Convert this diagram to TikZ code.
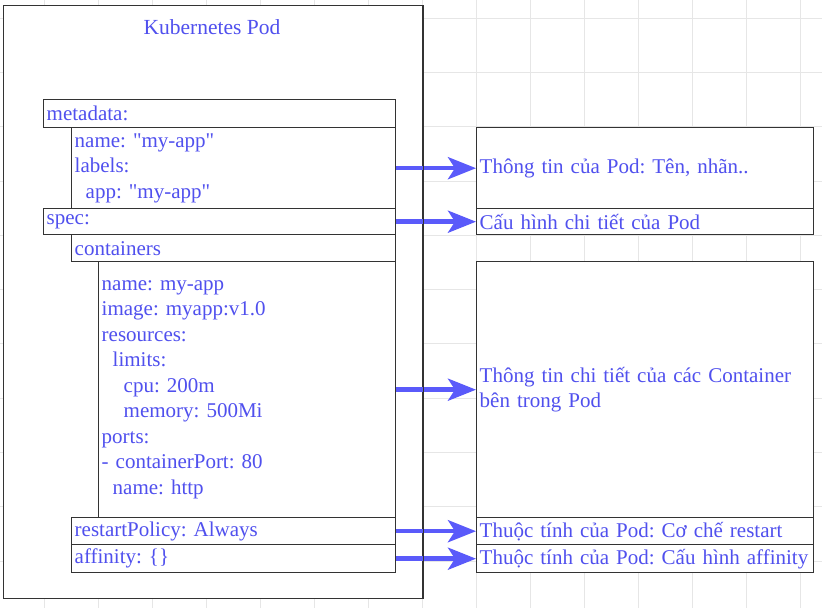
\documentclass[tikz,border=0pt]{standalone}
\usepackage{fontspec}
\setmainfont{Liberation Serif}[Ligatures=TeXOff]
\usetikzlibrary{arrows.meta}
\frenchspacing
\hyphenpenalty=10000
\definecolor{txt}{HTML}{5050EE}
\definecolor{arrc}{HTML}{5A5AFA}
\definecolor{gridc}{HTML}{E6E6E6}
\definecolor{edge}{HTML}{333333}
\newcommand{\boxfont}{\fontsize{21}{25.5}\selectfont}
\tikzset{
  box/.style={draw=edge, line width=1.4pt, fill=white, anchor=north west,
    inner xsep=3pt, inner ysep=0pt, align=left, text=txt, font=\boxfont},
  arr/.style={draw=arrc, line width=4.5pt,
    -{Stealth[length=28pt,width=22pt,inset=7pt]}},
}
\newcommand{\ind}[1]{\hspace*{#1pt}}
\begin{document}
\begin{tikzpicture}[x=1pt,y=-1pt]
\useasboundingbox (0,0) rectangle (822,608);
\fill[white] (0,0) rectangle (822,608);
% grid
\foreach \k in {-1,...,14} \draw[gridc, line width=0.8pt] ({44+54*\k},0) -- ({44+54*\k},608);
\foreach \k in {0,...,11} \draw[gridc, line width=0.8pt] (0,{18+54.3*\k}) -- (822,{18+54.3*\k});
% pod
\node[box, minimum width=419pt, minimum height=593pt] (pod) at (3,5) {};
\node[text=txt, font=\fontsize{21.5}{25.5}\selectfont] (title) at (212,27) {Kubernetes Pod};
% left boxes
\node[box, minimum width=352pt, minimum height=28pt, text width=346pt] (meta) at (43,99) {metadata:};
\node[box, minimum width=324pt, minimum height=81pt, text width=318pt] (metac) at (71,127) {name: "my-app"\\labels:\\\ind{11}app: "my-app"};
\node[box, minimum width=352pt, minimum height=26pt, text width=346pt] (spec) at (43,208) {spec:};
\node[box, minimum width=324pt, minimum height=27pt, text width=318pt] (cont) at (71,234) {containers};
\node[box, minimum width=297pt, minimum height=256pt, text width=291pt] (det) at (98,261) {name: my-app\\image: myapp:v1.0\\resources:\\\ind{11}limits:\\\ind{22}cpu: 200m\\\ind{22}memory: 500Mi\\ports:\\- containerPort: 80\\\ind{11}name: http};
\node[box, minimum width=324pt, minimum height=27pt, text width=318pt] (rest) at (71,517) {restartPolicy: Always};
\node[box, minimum width=324pt, minimum height=28pt, text width=318pt] (aff) at (71,544) {affinity: \{\}};
% right boxes
\node[box, minimum width=337pt, minimum height=81pt, text width=331pt] (r1) at (476,127) {Thông tin của Pod: Tên, nhãn..};
\node[box, minimum width=337pt, minimum height=26pt, text width=331pt] (r2) at (476,208) {Cấu hình chi tiết của Pod};
\node[box, minimum width=337pt, minimum height=256pt, text width=331pt] (r3) at (476,261) {Thông tin chi tiết của các Container\\bên trong Pod};
\node[box, minimum width=337pt, minimum height=27pt, text width=331pt] (r4) at (476,517) {Thuộc tính của Pod: Cơ chế restart};
\node[box, minimum width=337pt, minimum height=28pt, text width=331pt] (r5) at (476,544) {\mbox{Thuộc tính của Pod: Cấu hình affinity}};
% arrows
\draw[arr] (metac.east) -- (r1.west);
\draw[arr] (spec.east) -- (r2.west);
\draw[arr] (det.east) -- (r3.west);
\draw[arr] (rest.east) -- (r4.west);
\draw[arr] (aff.east) -- (r5.west);
\draw[edge, line width=1.4pt] (pod.north east) -- (pod.south east);
\end{tikzpicture}
\end{document}
